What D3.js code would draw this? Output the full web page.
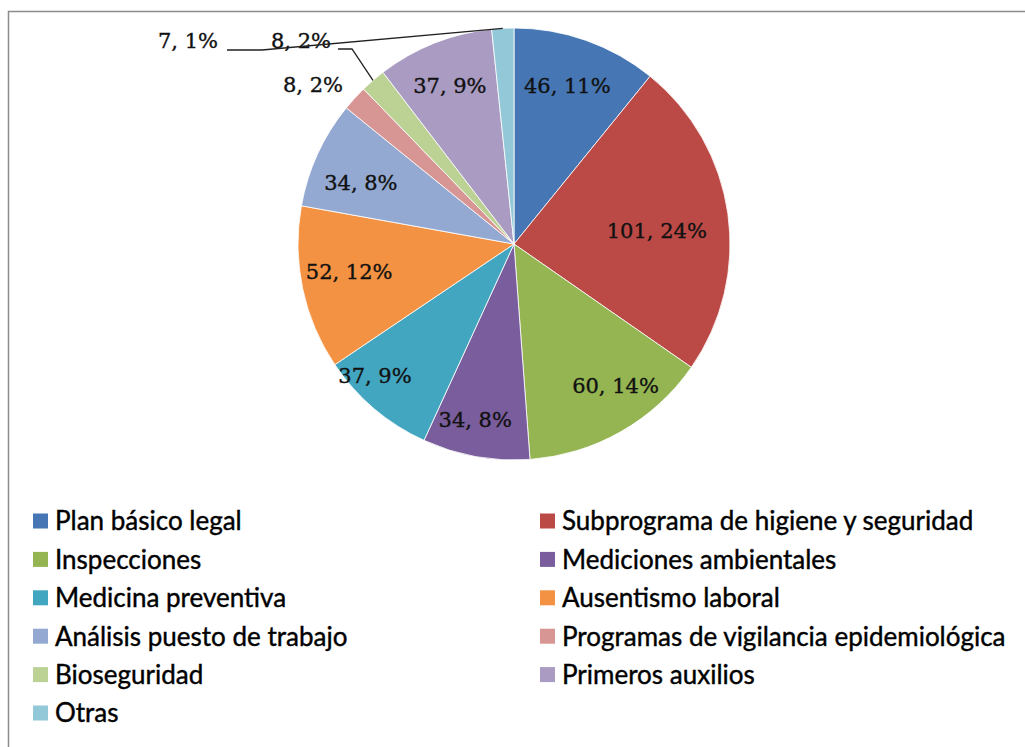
<!DOCTYPE html>
<html>
<head>
<meta charset="utf-8">
<script src="https://cdn.jsdelivr.net/npm/d3@7"></script>
<style>
  body { margin: 0; background: #fff; }
  svg { display: block; }
</style>
</head>
<body>
<svg id="chart" width="1025" height="747"></svg>
<script>
const categories = [
  "Plan básico legal",
  "Subprograma de higiene y seguridad",
  "Inspecciones",
  "Mediciones ambientales",
  "Medicina preventiva",
  "Ausentismo laboral",
  "Análisis puesto de trabajo",
  "Programas de vigilancia epidemiológica",
  "Bioseguridad",
  "Primeros auxilios",
  "Otras"
];
const values = [46, 101, 60, 34, 37, 52, 34, 8, 8, 37, 7];
const percents = ["11%", "24%", "14%", "8%", "9%", "12%", "8%", "2%", "2%", "9%", "1%"];
const colors = [
  "#4677b4", "#bb4a47", "#94b552", "#7a5d9c", "#43a6c0", "#f39243",
  "#93a9d2", "#d79593", "#bcd295", "#a99bc1", "#92c8d8"
];

const data = categories.map((c, i) => ({ name: c, value: values[i], pct: percents[i], color: colors[i] }));

const svg = d3.select("#chart");

// chart frame (runs off the right and bottom edges)
svg.append("rect")
  .attr("x", 8.5).attr("y", 11.5)
  .attr("width", 1100).attr("height", 800)
  .attr("fill", "none")
  .attr("stroke", "#8c8c8c")
  .attr("stroke-width", 1.5);

const cx = 514, cy = 244, r = 216;

const pie = d3.pie().sort(null).value((d) => d.value);
const arcs = pie(data);
const arc = d3.arc().innerRadius(0).outerRadius(r);

const g = svg.append("g").attr("transform", `translate(${cx},${cy})`);

g.selectAll("path.slice")
  .data(arcs)
  .enter()
  .append("path")
  .attr("class", "slice")
  .attr("d", arc)
  .attr("fill", (d) => d.data.color)
  .attr("stroke", "#fff")
  .attr("stroke-width", 0.8);

const labelFont = "'DejaVu Serif', serif";
const labelText = (d) => `${d.data.value}, ${d.data.pct}`;
const mid = (d) => (d.startAngle + d.endAngle) / 2;
const onCircle = (a, rr) => [Math.sin(a) * rr, -Math.cos(a) * rr];

// excel "best fit" nudges for the inside labels
const nudge = [[-3, 0], [-24, 10], [18, -5], [-9, 10], [-30, 3], [0, -7], [0, 9], null, null, [-2, -2], null];

function addLabel(x, y, txt) {
  g.append("text")
    .attr("x", x)
    .attr("y", y)
    .attr("dy", "0.35em")
    .attr("text-anchor", "middle")
    .attr("font-family", labelFont)
    .attr("font-size", 21)
    .attr("fill", "#111")
    .attr("stroke", "#111")
    .attr("stroke-width", 0.35)
    .text(txt);
}

// big slices: label inside
arcs.forEach((d, i) => {
  if (d.data.value <= 10) return;
  const [x, y] = onCircle(mid(d), r * 0.78);
  addLabel(x + nudge[i][0], y + nudge[i][1], labelText(d));
});

// small slices: outside, some with leader lines
const outside = {
  "Programas de vigilancia epidemiológica": { lx: -201, ly: -159, leader: null },
  "Bioseguridad": { lx: -213, ly: -203, leader: [[-162, -195], [-176, -195]] },
  "Otras": { lx: -326, ly: -203, leader: [[-252, -194], [-287, -194]] }
};

arcs.filter((d) => d.data.value <= 10).forEach((d) => {
  const o = outside[d.data.name];
  if (o.leader) {
    const start = onCircle(mid(d), r);
    g.append("path")
      .attr("d", d3.line()([start, ...o.leader]))
      .attr("fill", "none")
      .attr("stroke", "#222")
      .attr("stroke-width", 1.3);
  }
  addLabel(o.lx, o.ly, labelText(d));
});

// legend, two columns
const legend = svg.append("g").attr("font-family", "Lato, sans-serif").attr("font-size", 26);
const colX = [33, 540];
const rowY = d3.range(6).map((i) => 521 + i * 38.4);

const items = legend.selectAll("g.item")
  .data(data)
  .enter()
  .append("g")
  .attr("class", "item")
  .attr("transform", (d, i) => `translate(${colX[i % 2]},${rowY[Math.floor(i / 2)]})`);

items.append("rect")
  .attr("x", 0).attr("y", -7.5)
  .attr("width", 15).attr("height", 15)
  .attr("fill", (d) => d.color);

items.append("text")
  .attr("x", 22)
  .attr("dy", "0.36em")
  .attr("fill", "#000")
  .attr("stroke", "#000")
  .attr("stroke-width", 0.4)
  .text((d) => d.name);
</script>
</body>
</html>
